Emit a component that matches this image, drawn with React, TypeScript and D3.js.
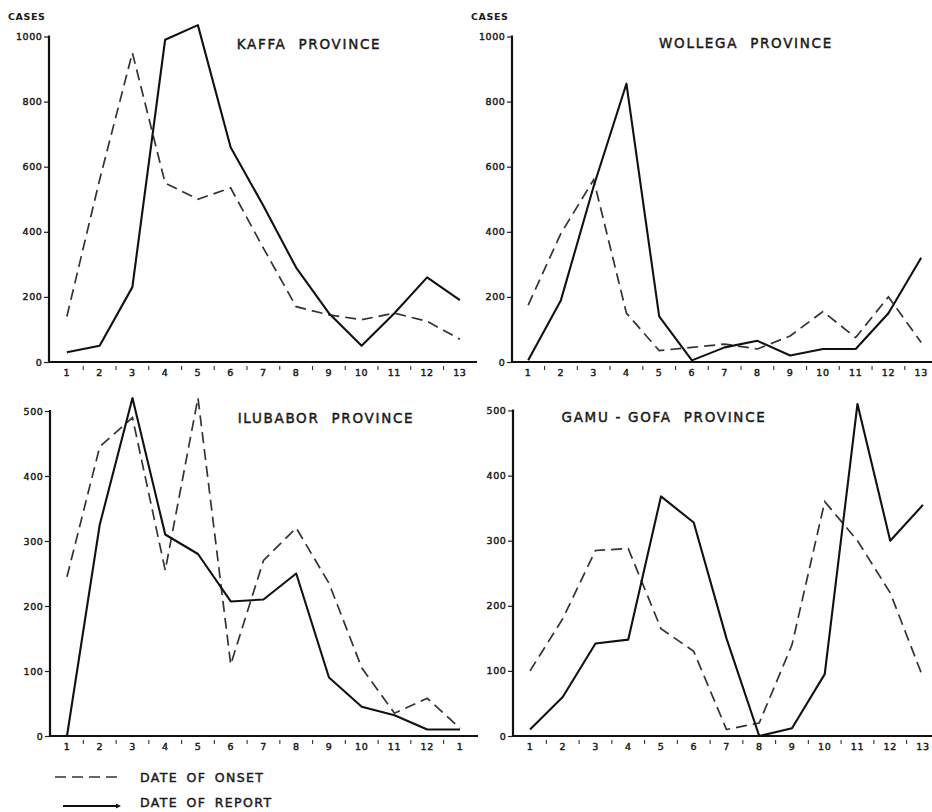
import React, { useEffect, useRef } from 'react';
import * as d3 from 'd3';

// Periods on the x axis (the last label of Ilubabor is cut to "1" in the original)
const periods = ['1', '2', '3', '4', '5', '6', '7', '8', '9', '10', '11', '12', '13'];
const ilubaborLabels = ['1', '2', '3', '4', '5', '6', '7', '8', '9', '10', '11', '12', '1'];

const topTicks = [0, 200, 400, 600, 800, 1000];
const bottomTicks = [0, 100, 200, 300, 400, 500];

// Cases by date of onset (dashed) and date of report (solid)
const kaffaOnset = [140, 560, 950, 550, 500, 535, 350, 170, 145, 130, 150, 125, 70];
const kaffaReport = [30, 50, 230, 990, 1035, 660, 480, 290, 150, 50, 150, 260, 190];
const wollegaOnset = [175, 395, 560, 150, 35, 45, 55, 40, 80, 155, 75, 200, 60];
const wollegaReport = [5, 190, 540, 855, 140, 5, 45, 65, 20, 40, 40, 150, 320];
const ilubaborOnset = [245, 445, 490, 255, 520, 110, 270, 320, 235, 105, 35, 58, 12];
const ilubaborReport = [0, 325, 520, 310, 280, 207, 210, 250, 90, 45, 32, 10, 10];
const gamuGofaOnset = [100, 180, 285, 288, 165, 130, 10, 20, 140, 360, 300, 220, 90];
const gamuGofaReport = [10, 60, 142, 148, 368, 328, 150, 0, 12, 95, 510, 300, 355];

const FONT = '"DejaVu Sans", Arial, sans-serif';
const INK = '#1a1a1a';

const panels = [
  { title: 'KAFFA  PROVINCE', onset: kaffaOnset, report: kaffaReport, labels: periods, ticks: topTicks, max: 1000,
    axisX: 49, bandX: 50.5, y0: 362, yTop: 36.5, titleX: 309, titleY: 49, cases: true, axisEnd: 477 },
  { title: 'WOLLEGA  PROVINCE', onset: wollegaOnset, report: wollegaReport, labels: periods, ticks: topTicks, max: 1000,
    axisX: 512, bandX: 511.8, y0: 362, yTop: 36.5, titleX: 746, titleY: 48, cases: true, axisEnd: 932 },
  { title: 'ILUBABOR  PROVINCE', onset: ilubaborOnset, report: ilubaborReport, labels: ilubaborLabels, ticks: bottomTicks, max: 500,
    axisX: 50, bandX: 50.6, y0: 736, yTop: 411, titleX: 326, titleY: 423, cases: false, axisEnd: 478 },
  { title: 'GAMU - GOFA  PROVINCE', onset: gamuGofaOnset, report: gamuGofaReport, labels: periods, ticks: bottomTicks, max: 500,
    axisX: 513, bandX: 513.6, y0: 736, yTop: 410.5, titleX: 664, titleY: 422, cases: false, axisEnd: 932 },
];

// medium-weight lettering: regular face with a thin outline
const lettering = (sel, size, spacing) => sel
  .attr('font-family', FONT)
  .attr('font-size', size)
  .attr('letter-spacing', spacing)
  .attr('fill', INK)
  .attr('stroke', INK)
  .attr('stroke-width', 0.45);

const App = () => {
  const svgRef = useRef(null);

  useEffect(() => {
    const svg = d3.select(svgRef.current);
    svg.selectAll('*').remove();

    svg.append('rect').attr('width', 932).attr('height', 812).attr('fill', '#ffffff');

    panels.forEach((p) => {
      const g = svg.append('g');

      const x = d3.scaleBand()
        .domain(periods)
        .range([p.bandX, p.bandX + 13 * 32.75]);

      const y = d3.scaleLinear()
        .domain([0, p.max])
        .range([p.y0, p.yTop]);

      // Y axis
      const yAxis = g.append('g')
        .attr('transform', `translate(${p.axisX},0)`)
        .call(d3.axisLeft(y).tickValues(p.ticks).tickFormat(d3.format('d'))
          .tickSize(5).tickSizeOuter(0).tickPadding(1.5));
      yAxis.select('.domain').remove();
      yAxis.selectAll('line').attr('stroke', '#222').attr('stroke-width', 1.2);
      lettering(yAxis.selectAll('text'), 9.5, 0.6);

      g.append('line')
        .attr('x1', p.axisX).attr('x2', p.axisX)
        .attr('y1', p.y0).attr('y2', y(p.max) - 1)
        .attr('stroke', '#111').attr('stroke-width', 2.2);

      // X axis
      g.append('line')
        .attr('x1', p.axisX).attr('x2', p.axisEnd)
        .attr('y1', p.y0).attr('y2', p.y0)
        .attr('stroke', '#111').attr('stroke-width', 2.2);

      g.selectAll('.bt')
        .data(periods.slice(1))
        .enter().append('line')
        .attr('x1', (d) => x(d)).attr('x2', (d) => x(d))
        .attr('y1', p.y0 + 4).attr('y2', p.y0 + 8)
        .attr('stroke', '#333').attr('stroke-width', 1.1);

      lettering(g.selectAll('.xl')
        .data(periods)
        .enter().append('text')
        .attr('x', (d) => x(d) + x.bandwidth() / 2)
        .attr('y', p.y0 + 14)
        .attr('text-anchor', 'middle'), 9.5, 0.6)
        .text((d, i) => p.labels[i]);

      const line = d3.line()
        .x((d, i) => x(periods[i]) + x.bandwidth() / 2)
        .y((d) => y(d));

      g.append('path')
        .datum(p.onset)
        .attr('d', line)
        .attr('fill', 'none')
        .attr('stroke', '#333')
        .attr('stroke-width', 1.7)
        .attr('stroke-dasharray', '11,6');

      g.append('path')
        .datum(p.report)
        .attr('d', line)
        .attr('fill', 'none')
        .attr('stroke', '#111')
        .attr('stroke-width', 2.1)
        .attr('stroke-linejoin', 'round');

      // Title
      lettering(g.append('text')
        .attr('x', p.titleX).attr('y', p.titleY)
        .attr('text-anchor', 'middle'), 13.5, 1.7)
        .style('white-space', 'pre')
        .text(p.title);

      if (p.cases) {
        g.append('text')
          .attr('x', p.axisX - 41).attr('y', 20)
          .attr('font-family', FONT)
          .attr('font-size', 9.5)
          .attr('font-weight', 'bold')
          .attr('letter-spacing', 0.6)
          .attr('fill', INK)
          .text('CASES');
      }
    });

    // Legend
    const legend = svg.append('g');
    legend.append('line')
      .attr('x1', 55).attr('x2', 118).attr('y1', 777).attr('y2', 777)
      .attr('stroke', '#333').attr('stroke-width', 1.7).attr('stroke-dasharray', '11,6');
    legend.append('line')
      .attr('x1', 63).attr('x2', 117).attr('y1', 806).attr('y2', 806)
      .attr('stroke', '#111').attr('stroke-width', 2.1);
    legend.append('path')
      .attr('d', 'M116,803.5 L121,806 L116,808.5 Z')
      .attr('fill', '#111');
    lettering(legend.selectAll('.lt')
      .data(['DATE OF ONSET', 'DATE OF REPORT'])
      .enter().append('text')
      .attr('x', 140)
      .attr('y', (d, i) => 782 + i * 25)
      .attr('word-spacing', 3), 12.5, 1.4)
      .text((d) => d);
  }, []);

  return <svg ref={svgRef} width={932} height={812} style={{ position: 'absolute', left: 0, top: 0 }}></svg>;
};

export default App;
